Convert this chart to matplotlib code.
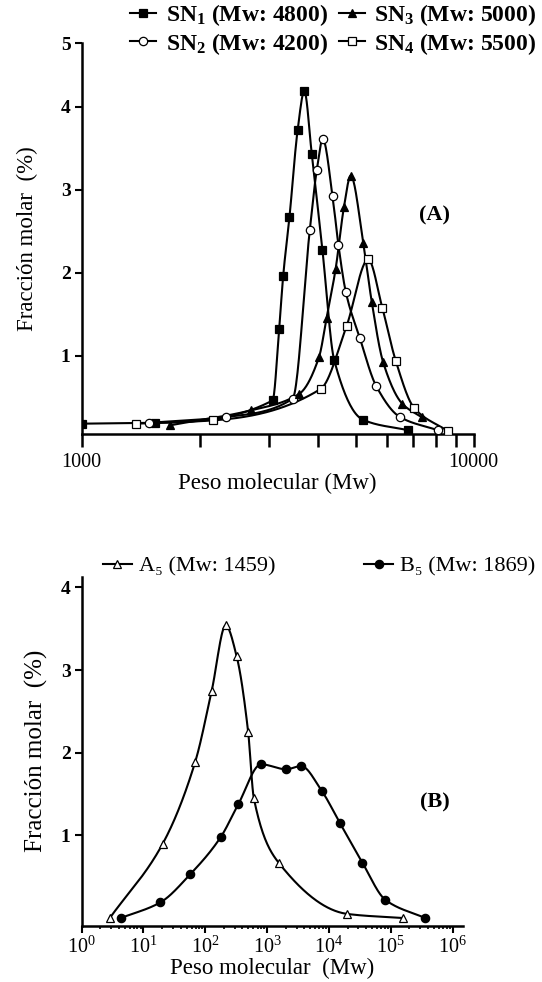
import numpy as np
import matplotlib
matplotlib.use("Agg")
import matplotlib.pyplot as plt
from matplotlib.ticker import FixedLocator, NullFormatter, LogLocator, LogFormatterSciNotation

plt.rcParams["font.family"] = ["Liberation Serif", "DejaVu Serif"]
plt.rcParams["mathtext.fontset"] = "custom"
plt.rcParams["mathtext.rm"] = "Liberation Serif:bold"
plt.rcParams["mathtext.it"] = "Liberation Serif:bold"
plt.rcParams["mathtext.bf"] = "Liberation Serif:bold"

# ---- panel A data (Mw, molar fraction %) ----
sn1_x = [1000, 1540, 3069, 3190, 3266, 3389, 3556, 3698, 3864, 4112, 4406, 5208, 6807]
sn1_y = [0.18, 0.19, 0.46, 1.32, 1.96, 2.67, 3.72, 4.19, 3.43, 2.28, 0.95, 0.23, 0.10]
sn2_x = [1482, 2333, 3451, 3820, 3979, 4122, 4366, 4520, 4718, 5127, 5633, 6487, 8128]
sn2_y = [0.19, 0.26, 0.48, 2.52, 3.24, 3.61, 2.92, 2.33, 1.77, 1.21, 0.64, 0.26, 0.10]
sn3_x = [1679, 2698, 3590, 4030, 4217, 4446, 4667, 4856, 5230, 5495, 5877, 6577, 7362]
sn3_y = [0.16, 0.34, 0.54, 0.98, 1.46, 2.05, 2.79, 3.17, 2.36, 1.65, 0.92, 0.42, 0.26]
sn4_x = [1376, 2167, 4074, 4742, 5382, 5846, 6325, 7048, 8610]
sn4_y = [0.18, 0.22, 0.60, 1.36, 2.16, 1.58, 0.94, 0.37, 0.09]
labels_a = ["SN$_1$ (Mw: 4800)", "SN$_2$ (Mw: 4200)", "SN$_3$ (Mw: 5000)", "SN$_4$ (Mw: 5500)"]

# ---- panel B data ----
a5_x = [2.85, 20.5, 68.7, 127, 214, 321, 494, 610, 1538, 19800, 160000]
a5_y = [0.0, 0.90, 1.89, 2.75, 3.54, 3.17, 2.25, 1.45, 0.67, 0.05, 0.0]
b5_x = [4.3, 18.8, 57.1, 178, 341, 800, 2042, 3515, 7640, 15060, 34800, 82000, 360000]
b5_y = [0.0, 0.19, 0.53, 0.98, 1.375, 1.86, 1.80, 1.84, 1.54, 1.15, 0.67, 0.22, 0.0]
labels_b = ["A\u2085 (Mw: 1459)", "B\u2085 (Mw: 1869)"]


def pchip(x, y, xn):
    # monotone cubic (Fritsch-Carlson) through the points
    x = np.asarray(x, float)
    y = np.asarray(y, float)
    h = np.diff(x)
    d = np.diff(y) / h
    m = np.zeros_like(y)
    for i in range(1, len(x) - 1):
        if d[i - 1] * d[i] > 0:
            w1 = 2 * h[i] + h[i - 1]
            w2 = h[i] + 2 * h[i - 1]
            m[i] = (w1 + w2) / (w1 / d[i - 1] + w2 / d[i])
    m[0] = d[0]
    m[-1] = d[-1]
    idx = np.clip(np.searchsorted(x, xn) - 1, 0, len(x) - 2)
    t = (xn - x[idx]) / h[idx]
    h00 = 2 * t**3 - 3 * t**2 + 1
    h10 = t**3 - 2 * t**2 + t
    h01 = -2 * t**3 + 3 * t**2
    h11 = t**3 - t**2
    return h00 * y[idx] + h10 * h[idx] * m[idx] + h01 * y[idx + 1] + h11 * h[idx] * m[idx + 1]


def smooth_log(ax, xs, ys):
    lx = np.log10(xs)
    grid = np.linspace(lx[0], lx[-1], 400)
    ax.plot(10**grid, pchip(lx, ys, grid), color="black", lw=1.5)


def style_axes(ax):
    for s in ["top", "right"]:
        ax.spines[s].set_visible(False)
    for s in ["left", "bottom"]:
        ax.spines[s].set_linewidth(1.8)


fig = plt.figure(figsize=(5.42, 9.82), dpi=100)
mk = dict(color="black", lw=1.5, ms=6, mec="black", mew=0.9)
pt = {k: v for k, v in mk.items() if k != "lw"}

# ---------------- panel A ----------------
ax1 = fig.add_axes([0.1507, 0.558, 0.7232, 0.3982])
series_a = [
    (sn1_x, sn1_y, dict(marker="s", mfc="black")),
    (sn2_x, sn2_y, dict(marker="o", mfc="white")),
    (sn3_x, sn3_y, dict(marker="^", mfc="black")),
    (sn4_x, sn4_y, dict(marker="s", mfc="white")),
]
handles = []
for (xs, ys, st), lab in zip(series_a, labels_a):
    smooth_log(ax1, xs, ys)
    ax1.plot(xs, ys, ls="none", zorder=3, **pt, **st)
    h, = ax1.plot([], [], label=lab, **mk, **st)
    handles.append(h)

ax1.set_xscale("log")
ax1.set_xlim(1000, 10000)
ax1.set_ylim(0.055, 4.77)
ax1.xaxis.set_major_locator(FixedLocator([1000, 10000]))
ax1.xaxis.set_minor_locator(FixedLocator([2000, 3000, 4000, 5000, 6000, 7000, 8000, 9000]))
ax1.xaxis.set_minor_formatter(NullFormatter())
ax1.set_xticklabels(["1000", "10000"])
ax1.set_yticks([1, 2, 3, 4, 4.77])
ax1.set_yticklabels(["1", "2", "3", "4", "5"])
ax1.tick_params(axis="x", which="both", length=9, width=1.8, pad=5, labelsize=14.5)
ax1.tick_params(axis="y", length=5, width=1.5, pad=3, labelsize=14)
for t in ax1.get_yticklabels():
    t.set_fontweight("bold")
style_axes(ax1)
ax1.set_xlabel("Peso molecular (Mw)", fontsize=16.5, labelpad=0)
ax1.set_ylabel("Fracción molar  (%)", fontsize=16.5, labelpad=16)
ax1.text(0.90, 0.56, "(A)", transform=ax1.transAxes, fontsize=16, fontweight="bold",
         ha="center", va="center")

fig.legend(handles=handles, labels=[h.get_label() for h in handles], ncol=2,
           loc="center", bbox_to_anchor=(0.615, 0.970), frameon=False,
           prop=dict(size=17, weight="bold"), handlelength=1.1, handletextpad=0.4,
           columnspacing=0.45, labelspacing=0.1, borderpad=0)

# ---------------- panel B ----------------
ax2 = fig.add_axes([0.1507, 0.0573, 0.703, 0.3554])
hb = []
series_b = [
    (a5_x, a5_y, dict(marker="^", mfc="white")),
    (b5_x, b5_y, dict(marker="o", mfc="black")),
]
for (xs, ys, st), lab in zip(series_b, labels_b):
    smooth_log(ax2, xs, ys)
    ax2.plot(xs, ys, ls="none", zorder=3, **pt, **st)
    h, = ax2.plot([], [], label=lab, **mk, **st)
    hb.append(h)

ax2.set_xscale("log")
ax2.set_xlim(1, 10**6.165)
ax2.set_ylim(-0.093, 4.13)
ax2.xaxis.set_major_locator(FixedLocator([10.0**k for k in range(7)]))
ax2.xaxis.set_major_formatter(LogFormatterSciNotation())
ax2.xaxis.set_minor_locator(LogLocator(base=10, subs=np.arange(2, 10), numticks=20))
ax2.xaxis.set_minor_formatter(NullFormatter())
ax2.set_yticks([1, 2, 3, 4])
ax2.tick_params(axis="x", which="major", length=5, width=1.5, pad=3, labelsize=14.5)
ax2.tick_params(axis="x", which="minor", length=2.5, width=1.2)
ax2.tick_params(axis="y", length=5, width=1.5, pad=3, labelsize=14)
for t in ax2.get_yticklabels():
    t.set_fontweight("bold")
style_axes(ax2)
ax2.set_xlabel("Peso molecular  (Mw)", fontsize=16.5, labelpad=0)
ax2.set_ylabel("Fracción molar  (%)", fontsize=18, labelpad=9)
ax2.text(0.927, 0.352, "(B)", transform=ax2.transAxes, fontsize=16, fontweight="bold",
         ha="center", va="center")

leg_a5 = fig.legend(handles=[hb[0]], labels=[labels_b[0]], loc="center left",
                    bbox_to_anchor=(0.19, 0.4235), frameon=False, prop=dict(size=16),
                    handlelength=1.3, handletextpad=0.3, borderpad=0, borderaxespad=0)
fig.legend(handles=[hb[1]], labels=[labels_b[1]], loc="center left",
           bbox_to_anchor=(0.672, 0.4235), frameon=False, prop=dict(size=16),
           handlelength=1.3, handletextpad=0.3, borderpad=0, borderaxespad=0)

fig.savefig("out.png", dpi=100)
